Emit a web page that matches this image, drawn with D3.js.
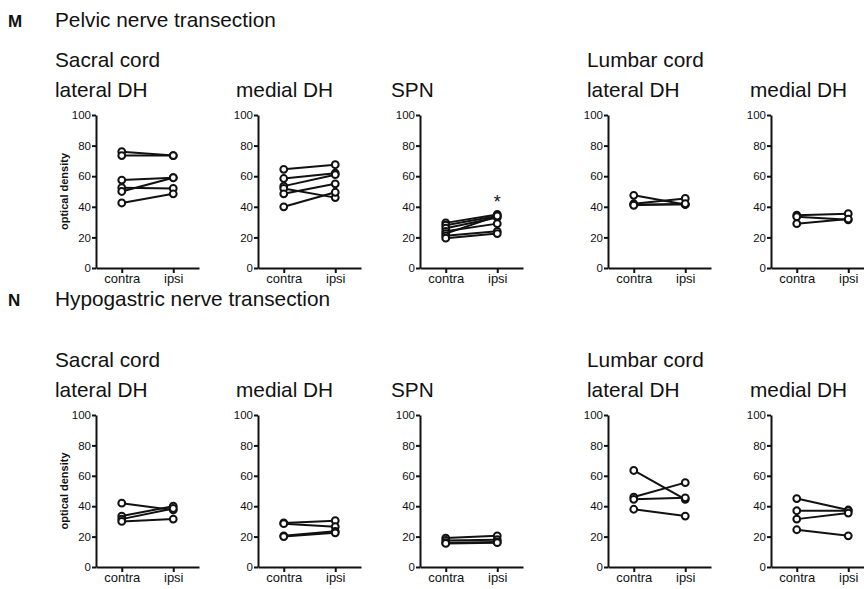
<!DOCTYPE html>
<html lang="en">
<head>
<meta charset="UTF-8">
<title>Optical density after nerve transection</title>
<script src="https://d3js.org/d3.v7.min.js"></script>
<style>
  body { margin: 0; background: #fff; }
  text { font-family: "Liberation Sans", Arial, sans-serif; fill: #111; }
  .axis path, .axis line { stroke: #111; stroke-width: 2; }
  .axis text { fill: #111; }
</style>
</head>
<body>
<svg id="svg1" width="864" height="589"></svg>
<script>
// categories + ticks
const groups = ["contra", "ipsi"];
const yTicks = [0, 20, 40, 60, 80, 100];

// each pair is one animal: [contra, ipsi]
// M - pelvic nerve transection
const pelvicSacralLateral = [[76, 73.5], [73.5, 73.5], [57.5, 59], [52.5, 52], [50, 59], [42.5, 48.5]];
const pelvicSacralMedial = [[64.5, 67.5], [58.5, 62], [53.5, 61], [52, 46], [48.5, 55], [40, 49.5]];
const pelvicSacralSPN = [[29.5, 35], [28, 34], [26, 33], [24, 29], [22.5, 34], [21, 24], [19.5, 22.5]];
const pelvicLumbarLateral = [[47.5, 41.5], [42, 45.5], [41.5, 41.5], [41, 42]];
const pelvicLumbarMedial = [[34.5, 35.5], [33.5, 31.5], [29, 32]];

// N - hypogastric nerve transection
const hypoSacralLateral = [[42, 37.5], [33.5, 40], [31.5, 38.5], [30, 31.5]];
const hypoSacralMedial = [[29, 30.5], [28.5, 26.5], [20.5, 23.5], [20, 22.5]];
const hypoSacralSPN = [[19, 20.5], [17.5, 18], [16, 16.5], [15.5, 16]];
const hypoLumbarLateral = [[63.5, 44.5], [46, 55.5], [44.5, 45.5], [38, 33.5]];
const hypoLumbarMedial = [[45, 37.5], [37, 37], [31.5, 35.5], [24.5, 20.5]];

const svg = d3.select("#svg1");

// layout
const colX = [96, 258, 420, 608, 771];
const subX = [55, 236, 391, 587, 750];
const plotW = 103;
const rows = [
  {letter: "M", title: "Pelvic nerve transection", titleY: 27, regionY: 67, subY: 97, top: 115, bottom: 268,
   panels: [
     {name: "lateral DH", data: pelvicSacralLateral, ylabel: true},
     {name: "medial DH", data: pelvicSacralMedial},
     {name: "SPN", data: pelvicSacralSPN, star: true},
     {name: "lateral DH", data: pelvicLumbarLateral},
     {name: "medial DH", data: pelvicLumbarMedial}
   ]},
  {letter: "N", title: "Hypogastric nerve transection", titleY: 305.5, regionY: 367, subY: 397, top: 415, bottom: 567,
   panels: [
     {name: "lateral DH", data: hypoSacralLateral, ylabel: true},
     {name: "medial DH", data: hypoSacralMedial},
     {name: "SPN", data: hypoSacralSPN},
     {name: "lateral DH", data: hypoLumbarLateral},
     {name: "medial DH", data: hypoLumbarMedial}
   ]}
];

rows.forEach(row => {
  svg.append("text").attr("x", 8).attr("y", row.titleY)
     .style("font", "bold 17px 'Liberation Sans', Arial").text(row.letter);
  svg.append("text").attr("x", 55).attr("y", row.titleY)
     .style("font-size", "20.8px").text(row.title);
  svg.append("text").attr("x", 55).attr("y", row.regionY)
     .style("font-size", "20.8px").text("Sacral cord");
  svg.append("text").attr("x", 587).attr("y", row.regionY)
     .style("font-size", "20.8px").text("Lumbar cord");

  row.panels.forEach((p, i) => {
    svg.append("text").attr("x", subX[i]).attr("y", row.subY)
       .style("font-size", "20.8px").text(p.name);

    const g = svg.append("g").attr("transform", `translate(${colX[i]},0)`);

    const x = d3.scalePoint().domain(groups).range([0, plotW]).padding(0.5);
    const y = d3.scaleLinear().domain([0, 100]).range([row.bottom, row.top]);

    const yAxis = g.append("g").attr("class", "axis").attr("color", "#111")
      .call(d3.axisLeft(y).tickValues(yTicks).tickSize(4).tickSizeOuter(0).tickPadding(1));
    yAxis.selectAll("text").style("font-size", "11.5px").style("font-family", "'Liberation Sans', Arial");

    const xAxis = g.append("g").attr("class", "axis").attr("color", "#111")
      .attr("transform", `translate(0,${row.bottom})`)
      .call(d3.axisBottom(x).tickSize(5).tickSizeOuter(0).tickPadding(1));
    xAxis.selectAll("text").style("font-size", "13px").style("font-family", "'Liberation Sans', Arial");

    const line = d3.line().x((d, k) => x(groups[k])).y(d => y(d));
    g.selectAll("path.pair").data(p.data).join("path")
      .attr("class", "pair")
      .attr("fill", "none").attr("stroke", "#111").attr("stroke-width", 2)
      .attr("d", line);

    p.data.forEach(pair => {
      pair.forEach((v, k) => {
        g.append("circle")
          .attr("cx", x(groups[k])).attr("cy", y(v)).attr("r", 3.4)
          .attr("fill", "#fff").attr("stroke", "#111").attr("stroke-width", 2);
      });
    });

    if (p.star) {
      const top = d3.max(p.data, d => d[1]);
      g.append("text").attr("x", x("ipsi")).attr("y", y(top) - 6)
        .attr("text-anchor", "middle").style("font-size", "18px").text("*");
    }

    if (p.ylabel) {
      g.append("text")
        .attr("transform", `translate(-28,${(row.top + row.bottom) / 2}) rotate(-90)`)
        .attr("text-anchor", "middle")
        .style("font", "bold 11px 'Liberation Sans', Arial")
        .text("optical density");
    }
  });
});
</script>
</body>
</html>
